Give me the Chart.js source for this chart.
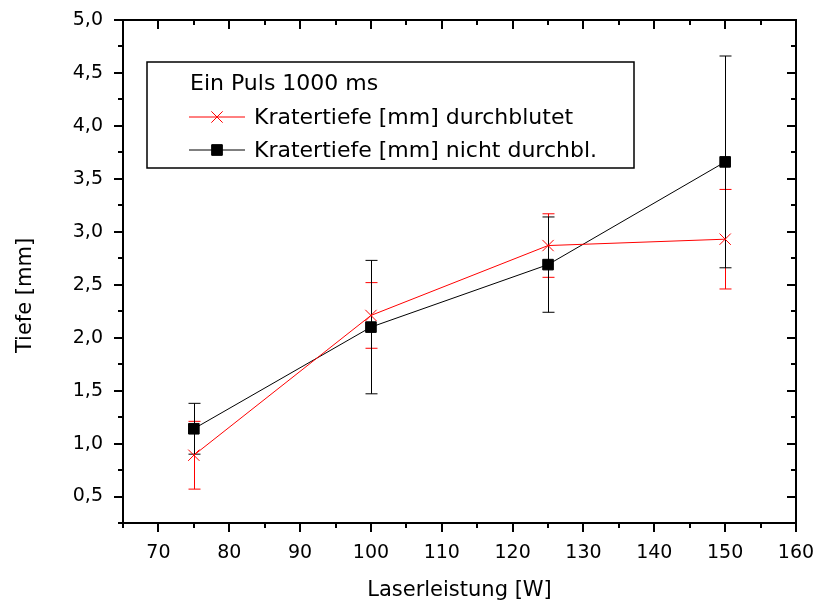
<!DOCTYPE html>
<html>
<head>
<meta charset="utf-8">
<script src="https://cdn.jsdelivr.net/npm/chart.js@4/dist/chart.umd.min.js"></script>
<style>
  body { margin: 0; background: #fff; }
</style>
</head>
<body>
<canvas id="my-chart" width="816" height="606"></canvas>
<script>
// Laserleistung [W]
const power = [75, 100, 125, 150];
// Kratertiefe durchblutet
const depthPerfused = [0.89, 2.21, 2.87, 2.93];
const errPerfused = [0.32, 0.31, 0.30, 0.47];
// Kratertiefe nicht durchblutet
const depthNonPerfused = [1.14, 2.10, 2.69, 3.66];
const errNonPerfused = [0.24, 0.63, 0.45, 1.00];

const xTicks = [70, 80, 90, 100, 110, 120, 130, 140, 150, 160];
const yTicks = [0.5, 1.0, 1.5, 2.0, 2.5, 3.0, 3.5, 4.0, 4.5, 5.0];

const legendTitle = 'Ein Puls 1000 ms';
const FONT = '"DejaVu Sans", sans-serif';

const toPoints = (xs, ys) => xs.map((x, i) => ({ x: x, y: ys[i] }));

// error bars, drawn under the markers
const errorBars = {
  id: 'errorBars',
  beforeDatasetsDraw(chart) {
    const ctx = chart.ctx;
    const xs = chart.scales.x, ys = chart.scales.y;
    chart.data.datasets.forEach(ds => {
      ctx.save();
      ctx.strokeStyle = ds.borderColor;
      ctx.lineWidth = 1;
      ds.data.forEach((p, i) => {
        const px = Math.round(xs.getPixelForValue(p.x)) + 0.5;
        const top = ys.getPixelForValue(p.y + ds.errors[i]);
        const bot = ys.getPixelForValue(p.y - ds.errors[i]);
        ctx.beginPath();
        ctx.moveTo(px, top); ctx.lineTo(px, bot);
        ctx.moveTo(px - 6, top); ctx.lineTo(px + 6, top);
        ctx.moveTo(px - 6, bot); ctx.lineTo(px + 6, bot);
        ctx.stroke();
      });
      ctx.restore();
    });
  }
};

// frame, ticks (Origin style), axis titles, legend box
const frame = {
  id: 'frame',
  afterDraw(chart) {
    const ctx = chart.ctx;
    const a = chart.chartArea;
    const xs = chart.scales.x, ys = chart.scales.y;
    ctx.save();
    ctx.strokeStyle = '#000';
    ctx.lineWidth = 2;
    ctx.strokeRect(a.left, a.top, a.right - a.left, a.bottom - a.top);

    ctx.lineWidth = 2;
    ctx.beginPath();
    for (let v = xs.min; v <= xs.max + 0.001; v += 5) {
      const px = Math.round(xs.getPixelForValue(v));
      const len = xTicks.includes(v) ? 9 : 5;
      ctx.moveTo(px, a.bottom); ctx.lineTo(px, a.bottom + len);
      ctx.moveTo(px, a.top); ctx.lineTo(px, a.top + len);
    }
    for (let v = ys.min; v <= ys.max + 0.001; v += 0.25) {
      const py = Math.round(ys.getPixelForValue(v));
      const major = yTicks.some(t => Math.abs(t - v) < 1e-6);
      const len = major ? 9 : 5;
      ctx.moveTo(a.left, py); ctx.lineTo(a.left - len, py);
      ctx.moveTo(a.right, py); ctx.lineTo(a.right - len, py);
    }
    ctx.stroke();

    // axis titles
    ctx.fillStyle = '#000';
    ctx.font = '21px ' + FONT;
    ctx.textAlign = 'center';
    ctx.textBaseline = 'middle';
    ctx.fillText('Laserleistung [W]', (a.left + a.right) / 2, 591);
    ctx.save();
    ctx.translate(26, (a.top + a.bottom) / 2 + 24);
    ctx.rotate(-Math.PI / 2);
    ctx.fillText('Tiefe [mm]', 0, 0);
    ctx.restore();

    // legend
    const lx = a.left + 24, ly = a.top + 42, lw = 487, lh = 106;
    ctx.lineWidth = 1.5;
    ctx.strokeRect(lx, ly, lw, lh);
    ctx.font = '22px ' + FONT;
    ctx.textAlign = 'left';
    ctx.fillText(legendTitle, lx + 43, ly + 22);
    chart.data.datasets.forEach((ds, i) => {
      const cy = ly + 55 + i * 33;
      ctx.strokeStyle = ds.borderColor;
      ctx.lineWidth = 1;
      ctx.beginPath();
      ctx.moveTo(lx + 42, cy); ctx.lineTo(lx + 98, cy);
      ctx.stroke();
      Chart.helpers.drawPoint(ctx, {
        pointStyle: ds.pointStyle, radius: ds.pointRadius, borderWidth: 1
      }, lx + 70, cy);
      if (ds.pointStyle === 'rect') {
        ctx.fillStyle = ds.backgroundColor;
        ctx.fill();
      }
      ctx.fillStyle = '#000';
      ctx.fillText(ds.label, lx + 107, cy + 1);
    });
    ctx.restore();
  }
};

const ctx = document.getElementById('my-chart').getContext('2d');
const chart = new Chart(ctx, {
  type: 'line',
  data: {
    datasets: [
      {
        label: 'Kratertiefe [mm] durchblutet',
        data: toPoints(power, depthPerfused),
        errors: errPerfused,
        borderColor: '#ff0000',
        backgroundColor: '#ff0000',
        borderWidth: 1,
        pointStyle: 'crossRot',
        pointRadius: 8,
        pointBorderWidth: 1,
        tension: 0
      },
      {
        label: 'Kratertiefe [mm] nicht durchbl.',
        data: toPoints(power, depthNonPerfused),
        errors: errNonPerfused,
        borderColor: '#000000',
        backgroundColor: '#000000',
        borderWidth: 1,
        pointStyle: 'rect',
        pointRadius: 7.5,
        pointBorderWidth: 1,
        tension: 0
      }
    ]
  },
  options: {
    responsive: false,
    animation: false,
    layout: { padding: { left: 0, right: 20, top: 20, bottom: 0 } },
    plugins: { legend: { display: false }, tooltip: { enabled: false } },
    scales: {
      x: {
        type: 'linear',
        min: 65,
        max: 160,
        afterBuildTicks: s => { s.ticks = xTicks.map(v => ({ value: v })); },
        afterFit: s => { s.height = 83; s.paddingLeft = 0; s.paddingRight = 0; },
        grid: { display: false, drawTicks: false },
        border: { display: false },
        ticks: {
          padding: 19,
          color: '#000',
          font: { family: FONT, size: 19 },
          maxRotation: 0
        }
      },
      y: {
        min: 0.25,
        max: 5.0,
        afterBuildTicks: s => { s.ticks = yTicks.map(v => ({ value: v })); },
        afterFit: s => { s.width = 123; s.paddingTop = 0; s.paddingBottom = 0; },
        grid: { display: false, drawTicks: false },
        border: { display: false },
        ticks: {
          padding: 20,
          color: '#000',
          font: { family: FONT, size: 19 },
          callback: v => v.toFixed(1).replace('.', ',')
        }
      }
    }
  },
  plugins: [errorBars, frame]
});
</script>
</body>
</html>
